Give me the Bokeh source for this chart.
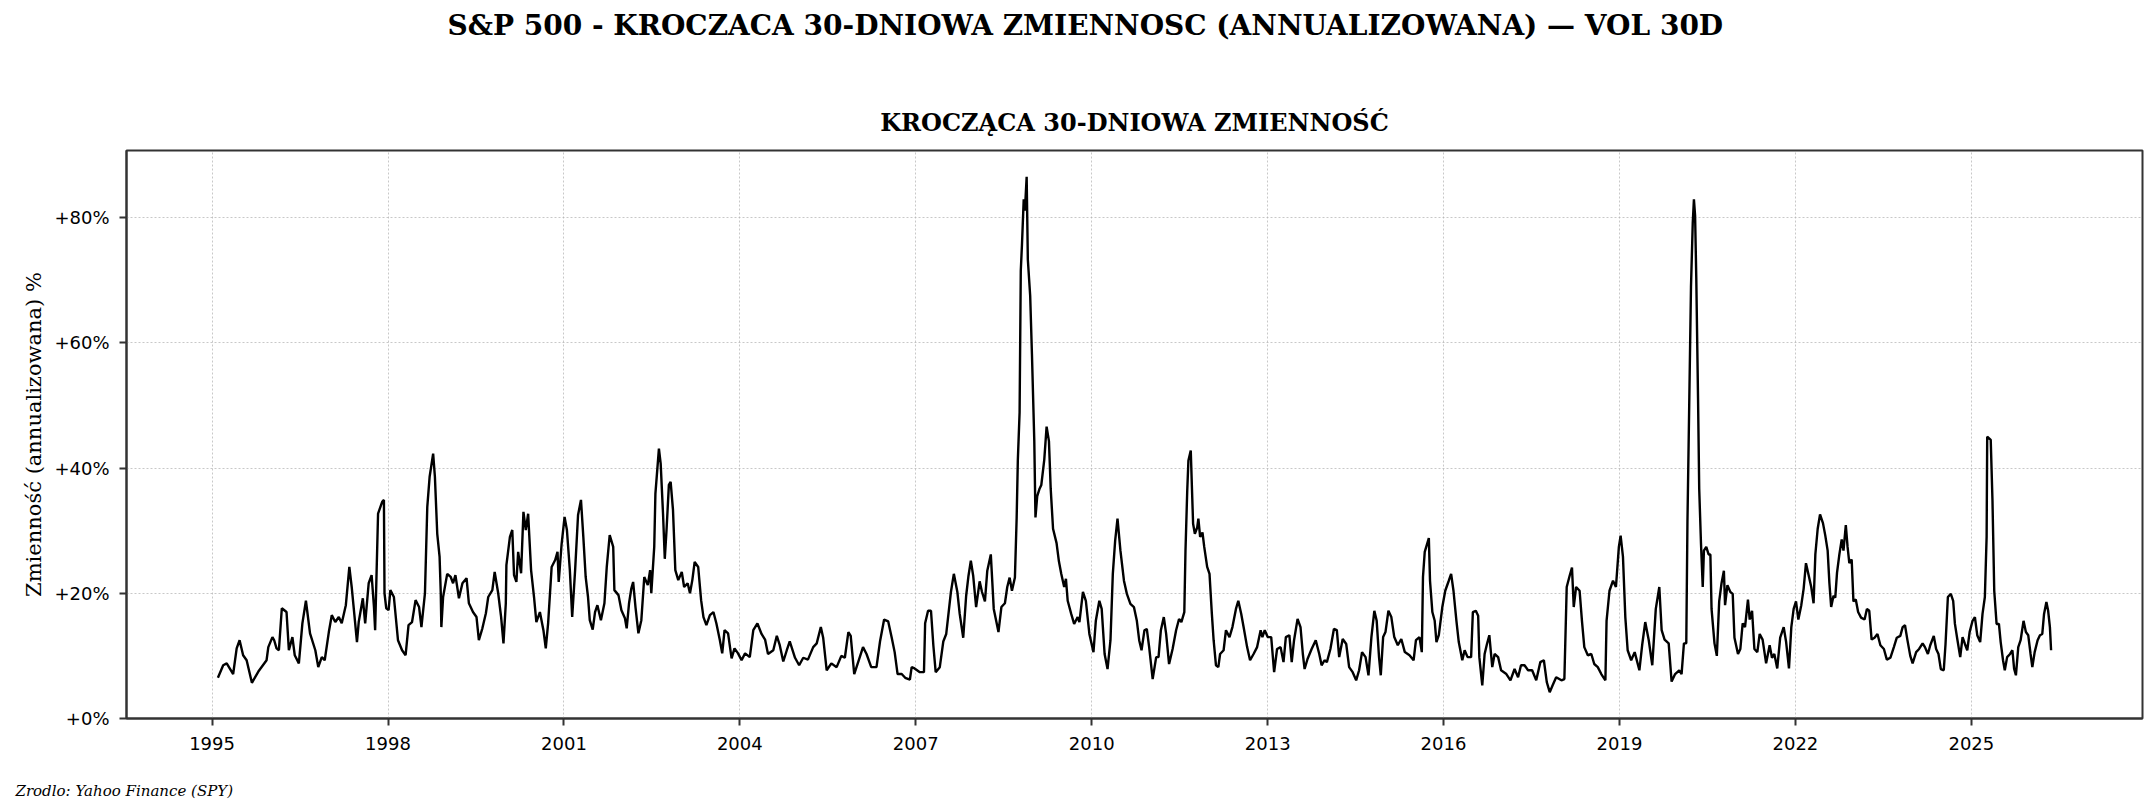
import pandas as pd
from bokeh.plotting import figure
from bokeh.models import Range1d, FixedTicker, PrintfTickFormatter, DatetimeTickFormatter, Title
from bokeh.embed import file_html
from bokeh.resources import INLINE

# rolling 30d vol of SPY (decimal year, % annualised)
year_frac = [
    1995.10, 1995.19, 1995.25, 1995.36, 1995.42, 1995.47, 1995.53, 1995.59, 1995.68, 1995.79,
    1995.93, 1995.96, 1996.03, 1996.06, 1996.10, 1996.14, 1996.19, 1996.27, 1996.31, 1996.37,
    1996.41, 1996.48, 1996.54, 1996.60, 1996.67, 1996.76, 1996.81, 1996.87, 1996.92, 1996.99,
    1997.04, 1997.10, 1997.16, 1997.21, 1997.28, 1997.34, 1997.38, 1997.41, 1997.47, 1997.50,
    1997.57, 1997.61, 1997.67, 1997.72, 1997.76, 1997.78, 1997.83, 1997.90, 1997.93, 1997.94,
    1997.97, 1998.01, 1998.04, 1998.10, 1998.17, 1998.24, 1998.30, 1998.35, 1998.41, 1998.47,
    1998.53, 1998.57, 1998.63, 1998.67, 1998.71, 1998.77, 1998.80, 1998.84, 1998.88, 1998.90,
    1998.91, 1998.94, 1999.01, 1999.07, 1999.11, 1999.15, 1999.21, 1999.27, 1999.34, 1999.38,
    1999.45, 1999.51, 1999.55, 1999.61, 1999.67, 1999.71, 1999.78,
    1999.82, 1999.88, 1999.93, 1999.97, 2000.01, 2000.02, 2000.08, 2000.12, 2000.15, 2000.19,
    2000.22, 2000.27, 2000.31, 2000.35, 2000.39, 2000.44, 2000.49, 2000.53, 2000.59, 2000.65,
    2000.69, 2000.73, 2000.79, 2000.85, 2000.89, 2000.91, 2000.96, 2001.01, 2001.05, 2001.10,
    2001.14, 2001.19, 2001.24, 2001.29, 2001.33, 2001.37, 2001.41, 2001.44, 2001.49, 2001.53,
    2001.57, 2001.63, 2001.69, 2001.73, 2001.78, 2001.84, 2001.86, 2001.93, 2001.98, 2002.04,
    2002.07, 2002.11, 2002.15, 2002.18, 2002.22, 2002.27, 2002.32, 2002.37, 2002.43, 2002.47,
    2002.49, 2002.54, 2002.56, 2002.60, 2002.62, 2002.65, 2002.69, 2002.72, 2002.75, 2002.79,
    2002.82, 2002.86, 2002.90, 2002.95, 2003.01, 2003.05, 2003.11, 2003.15, 2003.19, 2003.23,
    2003.29, 2003.34, 2003.38, 2003.43, 2003.49, 2003.55, 2003.60, 2003.66, 2003.70, 2003.74,
    2003.80, 2003.86, 2003.91, 2003.97, 2004.03, 2004.09, 2004.17, 2004.23, 2004.30,
    2004.37, 2004.43, 2004.48, 2004.57, 2004.63, 2004.68, 2004.74, 2004.80, 2004.85, 2004.94,
    2005.01, 2005.08, 2005.16, 2005.25, 2005.31, 2005.38, 2005.42, 2005.48, 2005.56, 2005.65,
    2005.73, 2005.79, 2005.85, 2005.89, 2005.95, 2006.02, 2006.10, 2006.16, 2006.24, 2006.33,
    2006.39, 2006.46, 2006.53, 2006.59, 2006.64, 2006.69, 2006.76, 2006.82, 2006.90, 2006.93,
    2006.98, 2007.07, 2007.14, 2007.16, 2007.21, 2007.26, 2007.30, 2007.34, 2007.41, 2007.47,
    2007.52, 2007.60, 2007.65, 2007.71, 2007.75, 2007.81, 2007.86, 2007.90, 2007.94, 2007.98,
    2008.03, 2008.09, 2008.13, 2008.18, 2008.22, 2008.28, 2008.33, 2008.38, 2008.41, 2008.46,
    2008.52, 2008.56, 2008.60, 2008.64, 2008.69, 2008.72, 2008.74, 2008.77, 2008.79, 2008.81,
    2008.84, 2008.86, 2008.89, 2008.91, 2008.95, 2008.98, 2009.02, 2009.04, 2009.07, 2009.11,
    2009.14, 2009.19, 2009.23, 2009.27, 2009.30, 2009.34, 2009.40, 2009.44,
    2009.48, 2009.53, 2009.56, 2009.59, 2009.65, 2009.70, 2009.76, 2009.79, 2009.85, 2009.90,
    2009.96, 2010.03, 2010.07, 2010.13, 2010.17, 2010.22, 2010.27, 2010.32, 2010.36, 2010.40,
    2010.44, 2010.49, 2010.55, 2010.60, 2010.66, 2010.72, 2010.77, 2010.81, 2010.85, 2010.90,
    2010.94, 2010.98, 2011.04, 2011.10, 2011.14, 2011.18, 2011.23, 2011.27, 2011.32, 2011.38,
    2011.44, 2011.49, 2011.53, 2011.58, 2011.60, 2011.63, 2011.65, 2011.69, 2011.71, 2011.73,
    2011.76, 2011.80, 2011.82, 2011.85, 2011.89, 2011.92, 2011.97, 2012.01, 2012.05, 2012.08,
    2012.12, 2012.16, 2012.19, 2012.25, 2012.29, 2012.35, 2012.40, 2012.46, 2012.50, 2012.55,
    2012.59, 2012.65, 2012.70, 2012.76, 2012.82, 2012.88, 2012.91, 2012.95, 2013.00, 2013.06,
    2013.11, 2013.16, 2013.22, 2013.27, 2013.31, 2013.37, 2013.41, 2013.45, 2013.51, 2013.56,
    2013.60, 2013.63, 2013.68, 2013.75, 2013.82, 2013.88, 2013.92, 2013.97, 2014.01, 2014.07,
    2014.13, 2014.18, 2014.22, 2014.28, 2014.34, 2014.39, 2014.45,
    2014.51, 2014.56, 2014.61, 2014.67, 2014.72, 2014.77, 2014.82, 2014.86, 2014.90, 2014.93,
    2014.97, 2015.01, 2015.06, 2015.11, 2015.16, 2015.22, 2015.28, 2015.34, 2015.42, 2015.49,
    2015.53, 2015.59, 2015.63, 2015.65, 2015.68, 2015.75, 2015.77, 2015.81, 2015.85, 2015.88,
    2015.92, 2015.98, 2016.03, 2016.09, 2016.13, 2016.17, 2016.22, 2016.26, 2016.32, 2016.36,
    2016.41, 2016.47, 2016.50, 2016.55, 2016.59, 2016.61, 2016.66, 2016.70, 2016.74, 2016.78,
    2016.83, 2016.87, 2016.93, 2016.98, 2017.07, 2017.14, 2017.21, 2017.27, 2017.32, 2017.38,
    2017.44, 2017.51, 2017.58, 2017.65, 2017.71, 2017.76, 2017.81, 2017.86, 2017.92, 2018.01,
    2018.06, 2018.10, 2018.15, 2018.19, 2018.22, 2018.26, 2018.32, 2018.36, 2018.40, 2018.46,
    2018.52, 2018.57, 2018.63, 2018.69, 2018.76, 2018.78, 2018.83, 2018.89, 2018.94, 2018.99,
    2019.02, 2019.06, 2019.10, 2019.14, 2019.20, 2019.26, 2019.34, 2019.39, 2019.44, 2019.50,
    2019.56,
    2019.62, 2019.68, 2019.72, 2019.77, 2019.84, 2019.89, 2019.95, 2020.02, 2020.06, 2020.10,
    2020.14, 2020.16, 2020.19, 2020.22, 2020.25, 2020.27, 2020.29, 2020.31, 2020.34, 2020.36,
    2020.39, 2020.42, 2020.44, 2020.48, 2020.52, 2020.55, 2020.57, 2020.62, 2020.66, 2020.70,
    2020.74, 2020.78, 2020.80, 2020.84, 2020.89, 2020.93, 2020.96, 2021.02, 2021.06, 2021.10,
    2021.14, 2021.19, 2021.22, 2021.26, 2021.30, 2021.35, 2021.39, 2021.44, 2021.50, 2021.56,
    2021.60, 2021.64, 2021.69, 2021.74, 2021.80, 2021.84, 2021.89, 2021.93, 2021.97, 2022.01,
    2022.05, 2022.10, 2022.14, 2022.18, 2022.22, 2022.27, 2022.31, 2022.34, 2022.38, 2022.42,
    2022.47, 2022.51, 2022.55, 2022.58, 2022.61, 2022.65, 2022.68, 2022.71, 2022.75, 2022.79,
    2022.82, 2022.86, 2022.89, 2022.92, 2022.96, 2022.99, 2023.03, 2023.07, 2023.12, 2023.18,
    2023.22, 2023.26, 2023.30, 2023.35, 2023.40, 2023.45, 2023.51, 2023.56, 2023.62, 2023.68,
    2023.73, 2023.79, 2023.83, 2023.87, 2023.91, 2023.96, 2024.00, 2024.06, 2024.11, 2024.17,
    2024.21, 2024.26, 2024.30, 2024.36, 2024.40, 2024.44,
    2024.48, 2024.53, 2024.56, 2024.60, 2024.65, 2024.69, 2024.72, 2024.76, 2024.81, 2024.85,
    2024.89, 2024.93, 2024.97, 2025.02, 2025.06, 2025.10, 2025.15, 2025.19, 2025.23, 2025.26,
    2025.27, 2025.33, 2025.36, 2025.39, 2025.43, 2025.47, 2025.50, 2025.54, 2025.57, 2025.61,
    2025.66, 2025.70, 2025.73, 2025.76, 2025.80, 2025.84, 2025.89, 2025.93, 2025.97, 2026.01,
    2026.04, 2026.08, 2026.13, 2026.17, 2026.21, 2026.24, 2026.28, 2026.31, 2026.34, 2026.36,
]
vol_pct = [
    6.5, 8.5, 8.8, 7.1, 11.2, 12.5, 10.1, 9.3, 5.7, 7.5,
    9.3, 11.4, 13.0, 12.5, 11.2, 10.9, 17.6, 17.0, 10.9, 13.0,
    10.1, 8.8, 15.2, 18.8, 13.6, 10.9, 8.2, 9.8, 9.3, 13.8,
    16.5, 15.4, 16.2, 15.2, 18.1, 24.2, 21.0, 18.1, 12.2, 15.4,
    19.2, 15.2, 21.6, 22.9, 17.8, 14.1, 32.7, 34.6, 34.9, 20.0,
    17.6, 17.3, 20.5, 19.4, 12.5, 10.9, 10.1, 14.9, 15.4, 18.9,
    17.8, 14.6, 20.0, 33.8, 38.6, 42.3, 38.6, 29.5, 25.8, 20.0,
    14.6, 19.4, 23.1, 22.6, 21.6, 22.9, 19.2, 21.6, 22.4, 18.4,
    17.0, 16.2, 12.5, 14.4, 16.8, 19.4, 20.5,
    23.4, 20.0, 16.2, 12.0, 18.4, 24.5, 29.0, 30.1, 22.9, 21.8,
    26.6, 23.2, 33.0, 30.1, 32.7, 23.7, 19.4, 15.4, 17.0, 14.1,
    11.2, 15.2, 24.2, 25.3, 26.6, 21.8, 27.9, 32.2, 30.1, 23.7,
    16.2, 23.7, 32.5, 34.9, 29.0, 22.6, 19.4, 15.7, 14.2, 17.0,
    18.1, 15.7, 18.4, 24.2, 29.3, 27.4, 20.5, 19.7, 17.3, 16.0,
    14.4, 18.4, 20.8, 21.8, 17.8, 13.6, 15.7, 22.6, 21.3, 23.7,
    20.0, 27.4, 35.9, 40.7, 43.1, 40.7, 32.7, 25.5, 30.1, 37.3,
    37.8, 33.3, 23.7, 22.1, 23.4, 21.0, 21.6, 20.0, 22.1, 25.0,
    24.2, 18.9, 16.2, 14.9, 16.5, 17.0, 15.2, 12.5, 10.4, 14.1,
    13.6, 9.6, 11.2, 10.4, 9.3, 10.4, 9.8, 14.1, 15.2,
    13.5, 12.6, 10.3, 10.9, 13.2, 11.7, 9.1, 10.9, 12.3, 9.7,
    8.5, 9.7, 9.4, 11.4, 12.0, 14.6, 12.9, 7.7, 8.8, 8.2,
    10.0, 9.7, 13.8, 13.2, 7.1, 9.1, 11.4, 10.3, 8.2, 8.2,
    12.3, 15.8, 15.5, 12.9, 10.6, 7.1, 7.1, 6.5, 6.2, 8.2,
    8.0, 7.4, 7.4, 15.2, 17.2, 17.2, 11.7, 7.4, 8.2, 12.3,
    13.5, 20.2, 23.1, 20.2, 16.7, 12.9, 19.6, 22.8, 25.2, 22.8,
    17.8, 21.9, 20.2, 18.7, 23.6, 26.2, 17.5, 15.2, 13.8, 17.8,
    18.4, 21.0, 22.5, 20.4, 22.5, 32.1, 41.3, 48.9, 71.5, 75.6,
    82.9, 81.1, 86.5, 73.3, 67.5, 58.2, 44.3, 32.1, 35.5, 36.7,
    37.3, 41.3, 46.6, 44.3, 36.7, 30.3, 28.0, 25.1,
    23.1, 21.0, 22.3, 18.8, 16.7, 15.1, 16.2, 15.4, 20.2, 18.8,
    13.5, 10.6, 15.6, 18.8, 17.5, 10.3, 7.9, 12.5, 23.1, 28.4,
    31.9, 26.8, 22.0, 19.9, 18.3, 17.8, 15.6, 12.5, 10.9, 14.1,
    14.3, 11.4, 6.3, 9.8, 9.8, 14.1, 16.2, 13.5, 8.7, 11.1,
    14.1, 15.9, 15.4, 17.0, 26.8, 36.4, 41.2, 42.8, 36.9, 31.1,
    29.5, 30.5, 31.9, 29.0, 29.7, 27.4, 24.2, 23.1, 16.7, 12.5,
    8.5, 8.2, 10.3, 10.9, 14.1, 13.0, 14.6, 17.5, 18.8, 16.7,
    14.6, 11.4, 9.3, 10.3, 11.4, 14.1, 13.0, 14.1, 13.0, 13.0,
    7.4, 11.1, 11.4, 9.0, 13.0, 13.3, 9.0, 12.5, 15.9, 14.6,
    10.3, 7.9, 9.5, 11.1, 12.5, 10.3, 8.5, 9.3, 9.0, 11.1,
    14.3, 14.1, 9.8, 12.7, 11.9, 8.2, 7.4,
    6.1, 7.7, 10.6, 9.8, 6.9, 13.0, 17.2, 15.6, 9.8, 6.9,
    13.0, 13.8, 17.2, 16.2, 13.0, 11.7, 12.7, 10.6, 10.1, 9.3,
    12.5, 13.0, 10.6, 22.6, 26.6, 28.8, 22.0, 17.0, 15.6, 12.2,
    13.3, 17.8, 20.4, 22.0, 23.1, 20.4, 15.6, 12.2, 9.3, 10.9,
    9.8, 9.8, 17.0, 17.2, 16.4, 9.8, 5.3, 10.3, 11.9, 13.3,
    8.2, 10.3, 9.8, 7.7, 7.1, 6.1, 7.9, 6.6, 8.5, 8.5,
    7.7, 7.7, 6.1, 9.0, 9.3, 5.8, 4.2, 5.3, 6.6, 6.1,
    6.3, 21.0, 22.8, 24.1, 17.8, 21.0, 20.4, 15.6, 11.4, 10.1,
    10.3, 8.7, 8.2, 7.1, 6.1, 15.6, 20.4, 22.0, 21.0, 27.4,
    29.2, 25.8, 16.2, 10.9, 9.3, 10.6, 7.7, 11.9, 15.4, 12.5,
    8.5,
    17.5, 21.0, 14.1, 12.6, 12.0, 5.9, 7.1, 7.7, 7.1, 12.0,
    12.0, 31.5, 50.1, 68.9, 79.1, 82.9, 80.3, 70.4, 51.2, 36.7,
    28.0, 21.0, 26.8, 27.4, 26.2, 26.2, 17.5, 12.0, 10.0, 18.7,
    21.6, 23.6, 18.1, 21.3, 20.2, 19.9, 12.9, 10.3, 11.1, 15.2,
    14.6, 19.0, 15.8, 17.2, 11.1, 10.6, 13.5, 12.6, 8.8, 11.7,
    9.7, 10.3, 8.0, 12.9, 14.6, 12.3, 8.0, 14.6, 17.5, 18.7,
    15.8, 18.1, 20.7, 24.8, 23.1, 21.0, 18.4, 26.2, 30.3, 32.6,
    31.2, 29.2, 26.8, 21.6, 17.8, 19.6, 19.3, 23.3, 26.2, 28.6,
    26.8, 30.9, 27.4, 24.8, 25.4, 18.7, 19.0, 17.0, 16.1, 15.8,
    17.5, 17.2, 12.6, 12.9, 13.5, 11.7, 11.1, 9.4, 9.7, 11.4,
    12.9, 13.2, 14.6, 14.9, 12.6, 10.0, 8.8, 10.6, 11.1, 12.0,
    11.4, 10.3, 11.7, 13.2, 11.1, 10.3,
    7.9, 7.7, 11.9, 19.4, 19.9, 18.8, 15.1, 12.7, 9.8, 13.0,
    11.9, 10.9, 13.8, 15.6, 16.2, 13.3, 12.2, 16.7, 19.4, 29.0,
    45.0, 44.5, 34.8, 20.4, 15.1, 15.1, 12.2, 9.3, 7.7, 9.8,
    10.3, 10.9, 7.9, 6.9, 11.4, 12.5, 15.6, 13.8, 13.3, 10.3,
    8.2, 10.6, 12.5, 13.3, 13.5, 16.7, 18.6, 17.2, 14.6, 10.9,
]

tick_years = [1995, 1998, 2001, 2004, 2007, 2010, 2013, 2016, 2019, 2022, 2025]
y_ticks = [0, 20, 40, 60, 80]

main_title = "S&P 500 - KROCZACA 30-DNIOWA ZMIENNOSC (ANNUALIZOWANA) \u2014 VOL 30D"
sub_title = "KROCZĄCA 30-DNIOWA ZMIENNOŚĆ"
y_label = "Zmienność (annualizowana) %"
source = "Zrodlo: Yahoo Finance (SPY)"


def to_dt(y):
    yr = int(y)
    start = pd.Timestamp(year=yr, month=1, day=1)
    end = pd.Timestamp(year=yr + 1, month=1, day=1)
    return start + (end - start) * (y - yr)


t = [to_dt(y) for y in year_frac]

W, H = 2148, 804

p = figure(width=W, height=H, x_axis_type="datetime",
           x_range=Range1d(to_dt(1993.54), to_dt(2027.92)),
           y_range=Range1d(0, 90.7),
           output_backend="svg", toolbar_location=None,
           min_border_left=126, min_border_right=6,
           min_border_top=150, min_border_bottom=86)

p.line(t, vol_pct, color="black", line_width=2.4)

p.outline_line_color = "#333333"
p.outline_line_width = 2

p.xaxis.ticker = FixedTicker(ticks=[to_dt(y).value / 1e6 for y in tick_years])
p.xaxis.formatter = DatetimeTickFormatter(years="%Y", months="%Y", days="%Y")
p.yaxis.ticker = FixedTicker(ticks=y_ticks)
p.yaxis.formatter = PrintfTickFormatter(format="+%d%%")

for ax in (p.xaxis, p.yaxis):
    ax.axis_line_color = "#333333"
    ax.axis_line_width = 2
    ax.major_tick_line_color = "#333333"
    ax.major_tick_line_width = 2
    ax.major_tick_out = 7
    ax.major_tick_in = 0
    ax.minor_tick_line_color = None
    ax.major_label_text_font = "DejaVu Sans"
    ax.major_label_text_font_size = "18px"
    ax.major_label_text_color = "black"
p.xaxis.major_label_standoff = 11
p.yaxis.major_label_standoff = 10

p.yaxis.axis_label = y_label
p.yaxis.axis_label_text_font = "DejaVu Serif"
p.yaxis.axis_label_text_font_style = "normal"
p.yaxis.axis_label_text_font_size = "21px"
p.yaxis.axis_label_text_color = "black"
p.yaxis.axis_label_standoff = 5

p.grid.grid_line_color = "#b0b0b0"
p.grid.grid_line_dash = "2 2"
p.grid.grid_line_width = 1
p.grid.grid_line_alpha = 0.7

# figure title: outermost panel, empty second line pushes it to the top
p.title.text = main_title + "\n"
p.title.align = "left"
p.title.offset = 321
p.title.text_font = "DejaVu Serif"
p.title.text_font_style = "bold"
p.title.text_font_size = "28px"
p.title.text_color = "black"
p.title.text_line_height = 1.5
p.title.standoff = 0

# subplot title, right above the frame
p.add_layout(Title(text=sub_title, align="center", text_font="DejaVu Serif",
                   text_font_style="bold", text_font_size="24px", text_color="black",
                   standoff=28), "above")

p.add_layout(Title(text="\n" + source, align="left", text_font="DejaVu Serif",
                   text_font_style="italic", text_font_size="15px", text_color="black",
                   text_line_height=1.5, offset=-111, standoff=0), "below")

open("out.html", "w").write(file_html(p, INLINE))
